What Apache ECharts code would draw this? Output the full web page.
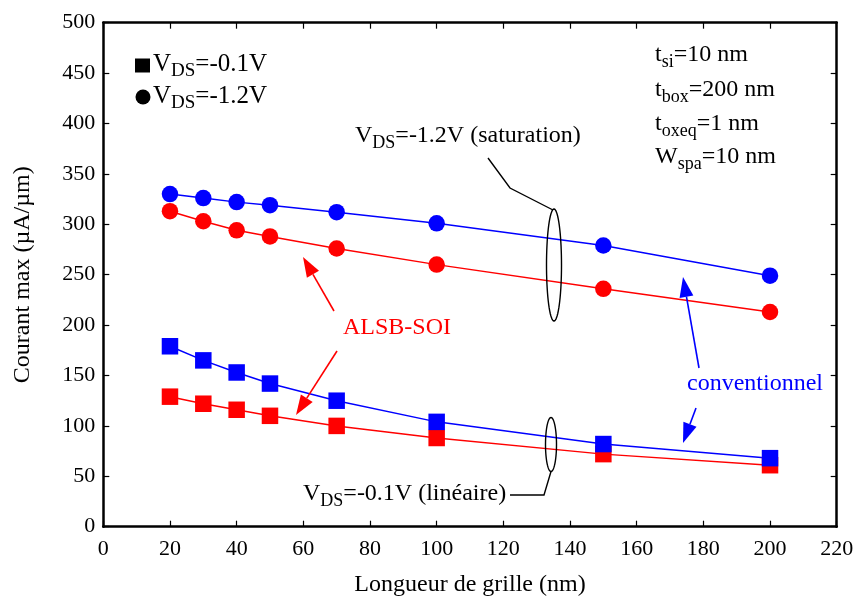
<!DOCTYPE html>
<html>
<head>
<meta charset="utf-8">
<script src="https://cdn.jsdelivr.net/npm/echarts@6/dist/echarts.min.js"></script>
<style>
  html, body { margin: 0; padding: 0; background: #fff; }
  #chart { width: 854px; height: 598px; }
</style>
</head>
<body>
<div id="chart"></div>
<script>
// Gate length (nm)
const gateLength = [20, 30, 40, 50, 70, 100, 150, 200];
// Maximum drain current (µA/µm)
const convSat  = [330, 326, 322, 319, 312, 301, 279, 249];   // conventionnel, VDS=-1.2V
const alsbSat  = [313, 303, 294, 288, 276, 260, 236, 213];   // ALSB-SOI, VDS=-1.2V
const convLin  = [179, 165, 153, 142, 125, 104, 82, 68];     // conventionnel, VDS=-0.1V
const alsbLin  = [129, 122, 116, 110, 100, 88, 72, 61];      // ALSB-SOI, VDS=-0.1V

const FONT = 'Liberation Serif';
const BLUE = '#0000ff';
const RED = '#ff0000';

function pairs(xs, ys) { return xs.map((x, i) => [x, ys[i]]); }

// Rich-text styles: main text plus a lowered subscript
function richStyles(size, subSize, color) {
  return {
    m: { fontFamily: FONT, fontSize: size, fill: color },
    s: { fontFamily: FONT, fontSize: subSize, fill: color, padding: [Math.round(size * 0.6), 0, 0, 0] }
  };
}
function label(x, y, text, size, color) {
  return {
    type: 'text', x: x, y: y, z: 10,
    style: {
      text: text, rich: richStyles(size, Math.round(size * 0.74), color || '#000'),
      fontFamily: FONT, fontSize: size, fill: color || '#000',
      align: 'left', verticalAlign: 'middle'
    }
  };
}
function arrow(x1, y1, x2, y2, color) {
  const dx = x2 - x1, dy = y2 - y1, len = Math.hypot(dx, dy);
  const ux = dx / len, uy = dy / len, nx = -uy, ny = ux;
  const hl = 20, hw = 7;
  const bx = x2 - ux * hl, by = y2 - uy * hl;
  return [
    { type: 'line', z: 10, shape: { x1: x1, y1: y1, x2: bx, y2: by },
      style: { stroke: color, lineWidth: 1.6 } },
    { type: 'polygon', z: 10,
      shape: { points: [[x2, y2], [bx + nx * hw, by + ny * hw], [bx - nx * hw, by - ny * hw]] },
      style: { fill: color } }
  ];
}
function ellipse(cx, cy, rx, ry) {
  const pts = [];
  for (let i = 0; i <= 72; i++) {
    const a = i / 72 * Math.PI * 2;
    pts.push([cx + rx * Math.cos(a), cy + ry * Math.sin(a)]);
  }
  return { type: 'polyline', z: 10, shape: { points: pts },
           style: { stroke: '#000', lineWidth: 1.4, fill: null } };
}

function axisX(pos, showLabels) {
  return {
    type: 'value', position: pos, min: 0, max: 220, interval: 20,
    axisLine: { onZero: false, lineStyle: { color: '#000', width: 2.5 } },
    axisTick: { show: true, inside: true, length: 6, lineStyle: { color: '#000', width: 1.2 } },
    axisLabel: { show: showLabels, color: '#000', fontFamily: FONT, fontSize: 22, margin: 12 },
    splitLine: { show: false },
    name: showLabels ? 'Longueur de grille (nm)' : '',
    nameLocation: 'middle', nameGap: 46,
    nameTextStyle: { color: '#000', fontFamily: FONT, fontSize: 24 }
  };
}
function axisY(pos, showLabels) {
  return {
    type: 'value', position: pos, min: 0, max: 500, interval: 50,
    axisLine: { onZero: false, lineStyle: { color: '#000', width: 2.5 } },
    axisTick: { show: true, inside: true, length: 6, lineStyle: { color: '#000', width: 1.2 } },
    axisLabel: { show: showLabels, color: '#000', fontFamily: FONT, fontSize: 22, margin: 8 },
    splitLine: { show: false },
    name: showLabels ? 'Courant max (µA/µm)' : '',
    nameLocation: 'middle', nameGap: 69,
    nameTextStyle: { color: '#000', fontFamily: FONT, fontSize: 24 }
  };
}
function lineSeries(name, ys, color, symbol) {
  return {
    name: name, type: 'line', data: pairs(gateLength, ys),
    symbol: symbol, symbolSize: 16.5, showSymbol: true,
    itemStyle: { color: color }, lineStyle: { color: color, width: 1.5 },
    silent: true, animation: false
  };
}

const graphics = [
  // symbol key
  { type: 'rect', z: 10, shape: { x: 135, y: 58.5, width: 15, height: 14 }, style: { fill: '#000' } },
  { type: 'circle', z: 10, shape: { cx: 143, cy: 97, r: 7.5 }, style: { fill: '#000' } },
  label(153, 64, '{m|V}{s|DS}{m|=-0.1V}', 25),
  label(153, 96, '{m|V}{s|DS}{m|=-1.2V}', 25),
  // device parameters
  label(655, 55, '{m|t}{s|si}{m|=10 nm}', 24),
  label(655, 90, '{m|t}{s|box}{m|=200 nm}', 24),
  label(655, 124, '{m|t}{s|oxeq}{m|=1 nm}', 24),
  label(655, 157, '{m|W}{s|spa}{m|=10 nm}', 24),
  // saturation group
  label(355, 136, '{m|V}{s|DS}{m|=-1.2V (saturation)}', 24),
  { type: 'polyline', z: 10, shape: { points: [[488, 158], [510, 188], [553, 210]] },
    style: { stroke: '#000', lineWidth: 1.4, fill: null } },
  ellipse(554, 265, 7.5, 56),
  // linear group
  label(303, 494, '{m|V}{s|DS}{m|=-0.1V (linéaire)}', 24),
  ellipse(551, 444.5, 5.5, 27),
  { type: 'polyline', z: 10, shape: { points: [[551, 471.5], [544, 495], [510, 495]] },
    style: { stroke: '#000', lineWidth: 1.4, fill: null } },
  // device type labels
  label(343, 328, '{m|ALSB-SOI}', 24, RED),
  label(687, 384, '{m|conventionnel}', 24, BLUE)
].concat(
  arrow(334, 311, 303, 257, RED),
  arrow(337, 351, 296, 415, RED),
  arrow(699, 368, 683, 277, BLUE),
  arrow(696, 408, 683, 443, BLUE)
);

const chart = echarts.init(document.getElementById('chart'), null, { renderer: 'canvas' });
chart.setOption({
  backgroundColor: '#fff',
  animation: false,
  grid: {
    left: 103.3, right: 17.3, top: 22.7, bottom: 71.3,
    containLabel: false, outerBoundsMode: 'none'
  },
  xAxis: [axisX('bottom', true), axisX('top', false)],
  yAxis: [axisY('left', true), axisY('right', false)],
  series: [
    lineSeries('ALSB-SOI sat', alsbSat, RED, 'circle'),
    lineSeries('ALSB-SOI lin', alsbLin, RED, 'rect'),
    lineSeries('conventionnel sat', convSat, BLUE, 'circle'),
    lineSeries('conventionnel lin', convLin, BLUE, 'rect')
  ],
  graphic: graphics
});
</script>
</body>
</html>
